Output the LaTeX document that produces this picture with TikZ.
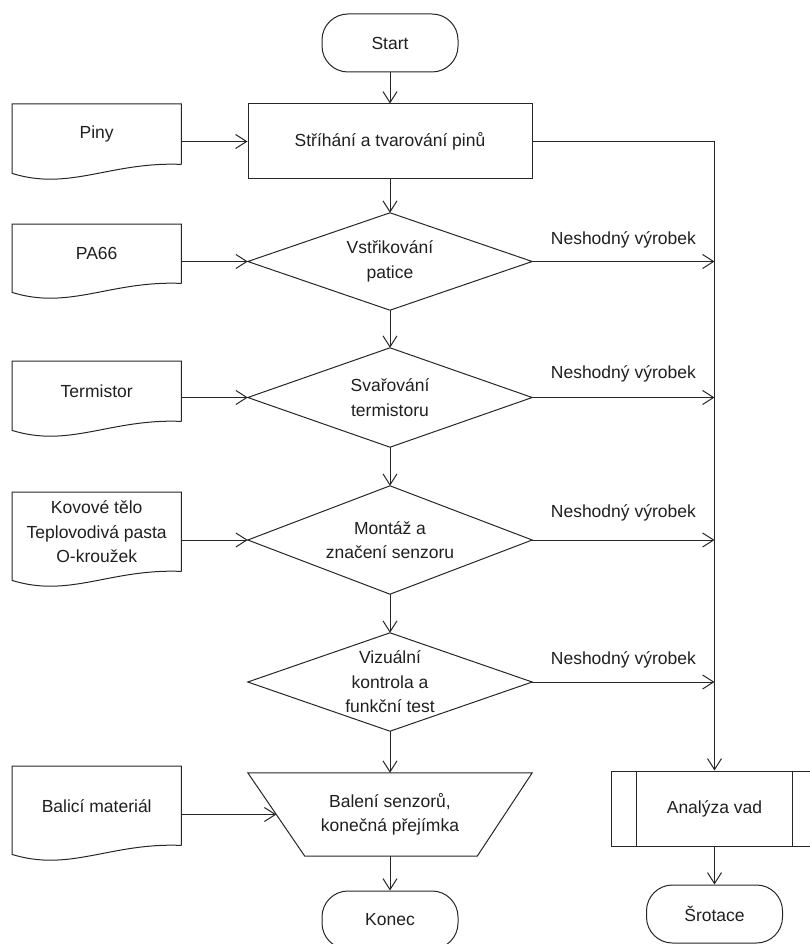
\documentclass[tikz,border=0pt]{standalone}
\usepackage{fontspec}
\setmainfont{Liberation Sans}
\usetikzlibrary{arrows.meta,calc}
\newcommand\docout[1]{\draw[ln] (#1.south east) -- (#1.north east) -- (#1.north west) -- ($(#1.south west)+(0,9)$) .. controls ($(#1.south west)+(58,27)$) and ($(#1.south east)+(-71,-3)$) .. (#1.south east);}
\begin{document}
\begin{tikzpicture}[x=1pt,y=-1pt,
  every node/.style={font=\fontsize{17.5}{24.5}\selectfont, align=center, inner sep=0pt, text=black!88},
  ln/.style={line width=1pt, draw=black!85},
  arr/.style={ln, -{Straight Barb[length=11pt,width=14pt,line width=1pt]}},
  term/.style={ln, draw, rounded corners=26pt, minimum width=136pt, minimum height=58pt},
  procbox/.style={ln, draw, minimum width=284pt, minimum height=75pt},
  ghost/.style={minimum width=284pt, minimum height=#1},
  docbox/.style={minimum width=169pt, minimum height=#1, anchor=north west},
  lbl/.style={yshift=#1},
  lbl/.default=23pt
]
\useasboundingbox (0,0) rectangle (810,944);

% main column
\node[term] (start) at (390,43) {Start};
\node[procbox] (p1) at (390,141.5) {Stříhání a tvarování pinů};
\node[ghost=97] (d1) at (390,261.5) {Vstřikování\\patice};
\node[ghost=99] (d2) at (390,397.5) {Svařování\\termistoru};
\node[ghost=108] (d3) at (390,540) {Montáž a\\značení senzoru};
\node[ghost=98] (d4) at (390,682) {Vizuální\\kontrola a\\funkční test};
\node[ghost=83] (trap) at (390,814.5) {Balení senzorů,\\konečná přejímka};
\node[term] (konec) at (390,920) {Konec};

\foreach \d in {d1,d2,d3,d4}{
  \draw[ln, line join=miter] (\d.north) -- (\d.east) -- (\d.south) -- (\d.west) -- cycle;
}
\coordinate (tbl) at ($(trap.south west)+(57,0)$);
\coordinate (tbr) at ($(trap.south east)+(-55,0)$);
\draw[ln] (trap.north west) -- (trap.north east) -- (tbr) -- (tbl) -- cycle;
\path (trap.north west) -- (tbl) coordinate[pos=0.5] (trapin);

% inputs
\node[docbox=60] (piny) at (12,104) {Piny};
\node[docbox=59] (pa66) at (12,224) {PA66};
\node[docbox=60] (termi) at (12,361) {Termistor};
\node[docbox=79] (kov) at (12,492) {Kovové tělo\\Teplovodivá pasta\\O-kroužek};
\node[docbox=79] (bal) at (12,766) {Balicí materiál};
\docout{piny}
\docout{pa66}
\docout{termi}
\docout{kov}
\docout{bal}

% right column
\node[ln, draw, minimum width=207pt, minimum height=75pt] (an) at (714.5,808.5) {Analýza vad};
\draw[ln] ($(an.north west)+(26,0)$) -- ($(an.south west)+(26,0)$);
\draw[ln] ($(an.north east)+(-26,0)$) -- ($(an.south east)+(-26,0)$);
\node[term] (srot) at (714.5,914) {Šrotace};

% main flow
\draw[arr] (start) -- (p1);
\draw[arr] (p1) -- (d1.north);
\draw[arr] (d1.south) -- (d2.north);
\draw[arr] (d2.south) -- (d3.north);
\draw[arr] (d3.south) -- (d4.north);
\draw[arr] (d4.south) -- (trap.north);
\draw[arr] (trap.south) -- (konec);

% input arrows
\draw[arr] (p1.west -| piny.east) -- (p1.west);
\draw[arr] (d1.west -| pa66.east) -- (d1.west);
\draw[arr] (d2.west -| termi.east) -- (d2.west);
\draw[arr] (d3.west -| kov.east) -- (d3.west);
\draw[arr] (trapin -| bal.east) -- (trapin);

% reject flow
\draw[arr] (p1.east) -| (an.north);
\draw[arr] (d1.east) -- node[lbl=22pt] {Neshodný výrobek} (d1.east -| an.north);
\draw[arr] (d2.east) -- node[lbl=24pt] {Neshodný výrobek} (d2.east -| an.north);
\draw[arr] (d3.east) -- node[lbl=27pt] {Neshodný výrobek} (d3.east -| an.north);
\draw[arr] (d4.east) -- node[lbl=22pt] {Neshodný výrobek} (d4.east -| an.north);
\draw[arr] (an) -- (srot);
\end{tikzpicture}
\end{document}
